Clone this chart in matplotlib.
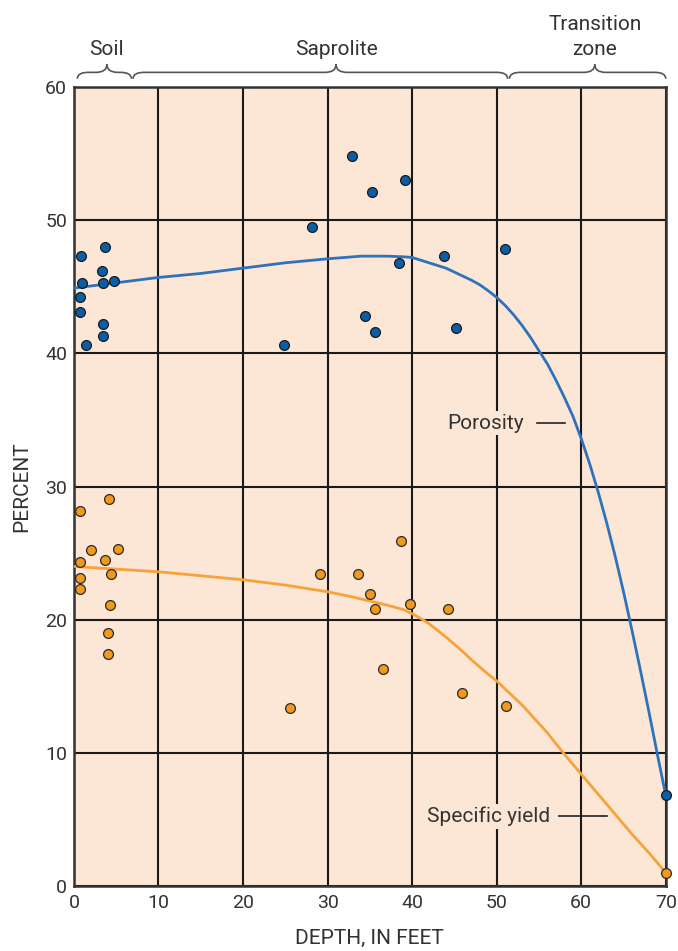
import matplotlib
matplotlib.use("Agg")
from matplotlib import pyplot as plt
from matplotlib.path import Path
from matplotlib.patches import PathPatch

plt.rcParams['font.family'] = ['Roboto', 'DejaVu Sans']

# Porosity samples (depth ft, percent)
por_depth = [0.8, 3.7, 3.3, 1.0, 3.5, 4.8, 0.7, 0.7, 3.5, 3.5, 1.4,
             24.8, 28.2, 32.9, 35.2, 39.2, 38.4, 43.8, 51.0, 34.4, 35.6, 45.2, 70.0]
por_value = [47.3, 48.0, 46.2, 45.3, 45.3, 45.4, 44.2, 43.1, 42.2, 41.3, 40.6,
             40.6, 49.5, 54.8, 52.1, 53.0, 46.8, 47.3, 47.8, 42.8, 41.6, 41.9, 6.8]

# Specific yield samples
sy_depth = [4.2, 0.7, 2.0, 5.2, 0.7, 3.7, 4.4, 0.7, 0.7, 4.3, 4.0, 4.0,
            25.6, 29.1, 33.6, 35.0, 35.6, 36.5, 38.7, 39.8, 44.3, 45.9, 51.1, 70.0]
sy_value = [29.1, 28.2, 25.2, 25.3, 24.3, 24.5, 23.4, 23.1, 22.3, 21.1, 19.0, 17.4,
            13.4, 23.4, 23.4, 21.9, 20.8, 16.3, 25.9, 21.2, 20.8, 14.5, 13.5, 1.0]

# Fitted curves
por_curve_x = [0, 5, 10, 15, 20, 25, 30, 34, 37, 39, 40, 41, 42, 43, 44, 45,
               46, 47, 48, 49, 50, 51, 52, 53, 54, 55, 56, 57, 58, 59, 60,
               61, 62, 63, 64, 65, 66, 67, 68, 69, 70]
por_curve_y = [44.9, 45.3, 45.7, 46.0, 46.4, 46.8, 47.1, 47.3, 47.3, 47.25, 47.2,
               47.0, 46.8, 46.6, 46.4, 46.1, 45.8, 45.5, 45.15, 44.7, 44.2, 43.6,
               42.9, 42.1, 41.2, 40.2, 39.2, 38.0, 36.7, 35.3, 33.6, 31.7, 29.6,
               27.3, 24.8, 22.1, 19.2, 16.2, 13.1, 9.9, 6.8]
sy_curve_x = [0, 5, 10, 15, 20, 25, 30, 33, 35, 37, 39, 40, 41, 42, 43, 44, 45,
              46, 47, 48, 49, 50, 51, 52, 53, 54, 55, 56, 57, 58, 60, 62, 64,
              66, 68, 70]
sy_curve_y = [24.0, 23.8, 23.6, 23.3, 23.0, 22.6, 22.1, 21.7, 21.4, 21.1, 20.75,
              20.45, 20.1, 19.7, 19.2, 18.7, 18.15, 17.6, 17.0, 16.45, 15.9, 15.4,
              14.8, 14.2, 13.6, 12.9, 12.2, 11.5, 10.7, 9.9, 8.4, 6.9, 5.4,
              3.9, 2.5, 1.0]

# Zones along the top (start, peak, end in feet)
zone_names = ["Soil", "Saprolite", "Transition\nzone"]
zone_spans = [(0.4, 3.9, 6.8), (7.0, 31.0, 51.3), (51.5, 61.6, 70.0)]

x_ticks = [0, 10, 20, 30, 40, 50, 60, 70]
y_ticks = [0, 10, 20, 30, 40, 50, 60]

BG = "#FCE6D5"
TXT = "#333333"
BLUE_DOT = "#0B5EA6"
BLUE_LINE = "#2F72BC"
ORANGE_DOT = "#F2981C"
ORANGE_LINE = "#F7A23A"


def brace(ax, x0, xp, x1, y0=60.62, ym=61.1, yh=61.7):
    """Horizontal curly brace above the plot, in data coordinates."""
    d = 1.3
    verts = [(x0, y0), (x0, ym), (x0 + d, ym),
             (xp - d, ym), (xp, ym), (xp, yh),
             (xp, ym), (xp + d, ym),
             (x1 - d, ym), (x1, ym), (x1, y0)]
    codes = [Path.MOVETO, Path.CURVE3, Path.CURVE3,
             Path.LINETO, Path.CURVE3, Path.CURVE3,
             Path.CURVE3, Path.CURVE3,
             Path.LINETO, Path.CURVE3, Path.CURVE3]
    ax.add_patch(PathPatch(Path(verts, codes), fc="none", ec="#555555",
                           lw=1.2, clip_on=False))


fig = plt.figure(figsize=(6.78, 9.51), dpi=100)
ax = fig.add_axes([0.109, 0.0683, 0.873, 0.8402])
ax.set_facecolor(BG)
ax.set_xlim(0, 70)
ax.set_ylim(0, 60)
ax.set_xticks(x_ticks)
ax.set_yticks(y_ticks)
ax.tick_params(length=0, labelsize=14, colors=TXT, pad=5)
ax.tick_params(axis="x", pad=6)
ax.grid(True, color="#1a1a1a", lw=1.5)
ax.set_axisbelow(True)
for s in ax.spines.values():
    s.set_color("#333333")
    s.set_linewidth(1.8)

ax.plot(por_curve_x, por_curve_y, color=BLUE_LINE, lw=2, zorder=3)
ax.plot(sy_curve_x, sy_curve_y, color=ORANGE_LINE, lw=2, zorder=3)
ax.scatter(por_depth, por_value, s=50, color=BLUE_DOT, edgecolors="#1a1a1a",
           linewidths=0.9, zorder=4, clip_on=False)
ax.scatter(sy_depth, sy_value, s=50, color=ORANGE_DOT, edgecolors="#2a2a2a",
           linewidths=0.9, zorder=4, clip_on=False)

# curve labels with leader lines
ax.text(44.2, 34.75, "Porosity", fontsize=15, color=TXT, va="center", ha="left",
        zorder=5, bbox=dict(fc=BG, ec="none", pad=2))
ax.plot([54.8, 58.1], [34.75, 34.75], color="#222222", lw=1.2, zorder=5)
ax.text(41.7, 5.25, "Specific yield", fontsize=15, color=TXT, va="center", ha="left",
        zorder=5, bbox=dict(fc=BG, ec="none", pad=2))
ax.plot([57.4, 63.0], [5.25, 5.25], color="#222222", lw=1.2, zorder=5)

for name, (a, p, b) in zip(zone_names, zone_spans):
    brace(ax, a, p, b)
    ax.text(p, 62.1, name, fontsize=15, color=TXT, ha="center", va="bottom",
            linespacing=1.4)

ax.set_xlabel("DEPTH, IN FEET", fontsize=15, color=TXT, labelpad=12)
ax.set_ylabel("PERCENT", fontsize=15, color=TXT, labelpad=10)

fig.savefig("out.png", dpi=100, facecolor="white")
